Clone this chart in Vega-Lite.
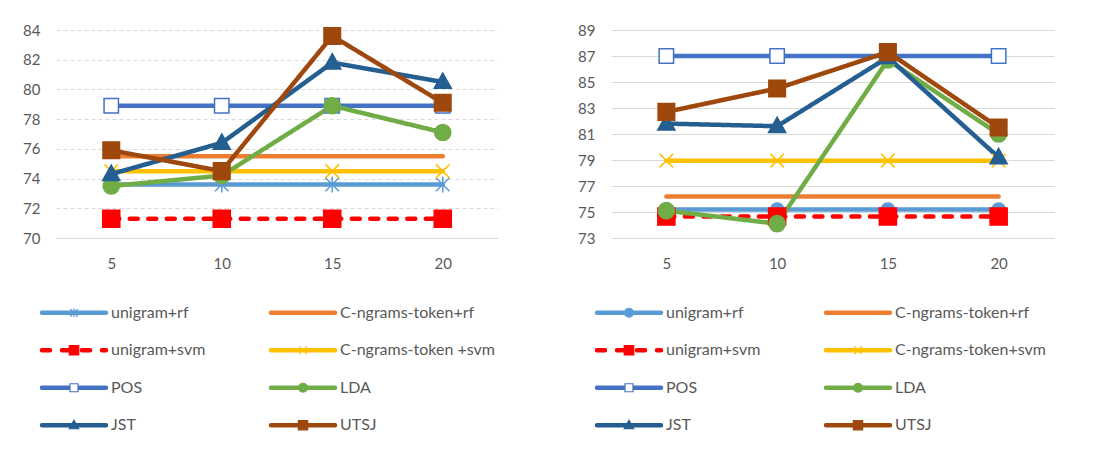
{
  "$schema": "https://vega.github.io/schema/vega-lite/v6.json",
  "background": "white",
  "padding": {"left": 22, "top": 23, "right": 5, "bottom": 5},
  "config": {
    "view": {"stroke": null},
    "font": "Lato",
    "axis": {"labelFont": "Lato", "labelFontSize": 15, "labelColor": "#595959"}
  },
  "datasets": {
    "left": [
      {"series": "unigram+rf", "k": 5, "v": 73.6}, {"series": "unigram+rf", "k": 10, "v": 73.6}, {"series": "unigram+rf", "k": 15, "v": 73.6}, {"series": "unigram+rf", "k": 20, "v": 73.6},
      {"series": "C-ngrams-token+rf", "k": 5, "v": 75.5}, {"series": "C-ngrams-token+rf", "k": 10, "v": 75.5}, {"series": "C-ngrams-token+rf", "k": 15, "v": 75.5}, {"series": "C-ngrams-token+rf", "k": 20, "v": 75.5},
      {"series": "unigram+svm", "k": 5, "v": 71.3}, {"series": "unigram+svm", "k": 10, "v": 71.3}, {"series": "unigram+svm", "k": 15, "v": 71.3}, {"series": "unigram+svm", "k": 20, "v": 71.3},
      {"series": "C-ngrams-token +svm", "k": 5, "v": 74.5}, {"series": "C-ngrams-token +svm", "k": 10, "v": 74.5}, {"series": "C-ngrams-token +svm", "k": 15, "v": 74.5}, {"series": "C-ngrams-token +svm", "k": 20, "v": 74.5},
      {"series": "POS", "k": 5, "v": 78.9}, {"series": "POS", "k": 10, "v": 78.9}, {"series": "POS", "k": 15, "v": 78.9}, {"series": "POS", "k": 20, "v": 78.9},
      {"series": "LDA", "k": 5, "v": 73.5}, {"series": "LDA", "k": 10, "v": 74.2}, {"series": "LDA", "k": 15, "v": 78.9}, {"series": "LDA", "k": 20, "v": 77.1},
      {"series": "JST", "k": 5, "v": 74.3}, {"series": "JST", "k": 10, "v": 76.4}, {"series": "JST", "k": 15, "v": 81.8}, {"series": "JST", "k": 20, "v": 80.5},
      {"series": "UTSJ", "k": 5, "v": 75.9}, {"series": "UTSJ", "k": 10, "v": 74.5}, {"series": "UTSJ", "k": 15, "v": 83.6}, {"series": "UTSJ", "k": 20, "v": 79.1}
    ],
    "right": [
      {"series": "unigram+rf", "k": 5, "v": 75.2}, {"series": "unigram+rf", "k": 10, "v": 75.2}, {"series": "unigram+rf", "k": 15, "v": 75.2}, {"series": "unigram+rf", "k": 20, "v": 75.2},
      {"series": "C-ngrams-token+rf", "k": 5, "v": 76.2}, {"series": "C-ngrams-token+rf", "k": 10, "v": 76.2}, {"series": "C-ngrams-token+rf", "k": 15, "v": 76.2}, {"series": "C-ngrams-token+rf", "k": 20, "v": 76.2},
      {"series": "unigram+svm", "k": 5, "v": 74.65}, {"series": "unigram+svm", "k": 10, "v": 74.65}, {"series": "unigram+svm", "k": 15, "v": 74.65}, {"series": "unigram+svm", "k": 20, "v": 74.65},
      {"series": "C-ngrams-token+svm", "k": 5, "v": 78.95}, {"series": "C-ngrams-token+svm", "k": 10, "v": 78.95}, {"series": "C-ngrams-token+svm", "k": 15, "v": 78.95}, {"series": "C-ngrams-token+svm", "k": 20, "v": 78.95},
      {"series": "POS", "k": 5, "v": 87.0}, {"series": "POS", "k": 10, "v": 87.0}, {"series": "POS", "k": 15, "v": 87.0}, {"series": "POS", "k": 20, "v": 87.0},
      {"series": "LDA", "k": 5, "v": 75.1}, {"series": "LDA", "k": 10, "v": 74.1}, {"series": "LDA", "k": 15, "v": 86.7}, {"series": "LDA", "k": 20, "v": 81.0},
      {"series": "JST", "k": 5, "v": 81.8}, {"series": "JST", "k": 10, "v": 81.6}, {"series": "JST", "k": 15, "v": 86.9}, {"series": "JST", "k": 20, "v": 79.2},
      {"series": "UTSJ", "k": 5, "v": 82.7}, {"series": "UTSJ", "k": 10, "v": 84.5}, {"series": "UTSJ", "k": 15, "v": 87.3}, {"series": "UTSJ", "k": 20, "v": 81.5}
    ]
  },
  "resolve": {"scale": {"stroke": "independent", "fill": "independent", "shape": "independent", "strokeDash": "independent"}},
  "spacing": 79,
  "hconcat": [
    {
      "spacing": 23,
      "resolve": {"scale": {"stroke": "independent", "fill": "independent", "shape": "independent", "strokeDash": "independent"}},
      "vconcat": [
        {
          "width": 442, "height": 208,
          "data": {"name": "left"},
          "encoding": {
            "x": {"field": "k", "type": "ordinal", "scale": {"type": "point", "padding": 0.5}, "axis": {"title": null, "labelAngle": 0, "ticks": false, "grid": false, "domainColor": "#d9d9d9", "domainWidth": 1, "labelPadding": 18}},
            "y": {"field": "v", "type": "quantitative", "scale": {"domain": [70, 84], "nice": false, "zero": false}, "axis": {"title": null, "values": [70, 72, 74, 76, 78, 80, 82, 84], "ticks": false, "domain": false, "grid": true, "gridColor": "#d9d9d9", "gridDash": [4, 3], "gridWidth": 1, "labelPadding": 16}}
          },
          "layer": [
            {
              "mark": {"type": "line", "strokeWidth": 4.5, "strokeCap": "round", "strokeJoin": "round"},
              "encoding": {
                "stroke": {"field": "series", "type": "nominal", "legend": null, "scale": {"domain": ["unigram+rf", "C-ngrams-token+rf", "unigram+svm", "C-ngrams-token +svm", "POS", "LDA", "JST", "UTSJ"], "range": ["#5b9bd5", "#ed7d31", "#ff0000", "#ffc000", "#4472c4", "#70ad47", "#255e91", "#9e480e"]}},
                "strokeDash": {"field": "series", "type": "nominal", "legend": null, "scale": {"domain": ["unigram+rf", "C-ngrams-token+rf", "unigram+svm", "C-ngrams-token +svm", "POS", "LDA", "JST", "UTSJ"], "range": [[1, 0], [1, 0], [8, 10.5], [1, 0], [1, 0], [1, 0], [1, 0], [1, 0]]}}
              }
            },
            {
              "transform": [{"filter": "datum.series !== 'C-ngrams-token+rf'"}],
              "mark": {"type": "point", "filled": true, "opacity": 1, "size": 324, "strokeWidth": 1.5},
              "encoding": {
                "shape": {"field": "series", "type": "nominal", "legend": null, "scale": {"domain": ["unigram+rf", "unigram+svm", "C-ngrams-token +svm", "POS", "LDA", "JST", "UTSJ"], "range": ["M-0.75,-0.75L0.75,0.75M-0.75,0.75L0.75,-0.75M0,-0.9L0,0.9", "M-0.95,-0.95L0.95,-0.95L0.95,0.95L-0.95,0.95Z", "M-0.75,-0.75L0.75,0.75M-0.75,0.75L0.75,-0.75", "M-0.8,-0.8L0.8,-0.8L0.8,0.8L-0.8,0.8Z", "M-0.9,0A0.9,0.9,0,1,1,0.9,0A0.9,0.9,0,1,1,-0.9,0Z", "M0,-1L0.95,0.7L-0.95,0.7Z", "M-0.92,-0.92L0.92,-0.92L0.92,0.92L-0.92,0.92Z"]}},
                "fill": {"field": "series", "type": "nominal", "legend": null, "scale": {"domain": ["unigram+rf", "unigram+svm", "C-ngrams-token +svm", "POS", "LDA", "JST", "UTSJ"], "range": ["transparent", "#ff0000", "transparent", "#ffffff", "#70ad47", "#255e91", "#9e480e"]}},
                "stroke": {"field": "series", "type": "nominal", "legend": null, "scale": {"domain": ["unigram+rf", "C-ngrams-token+rf", "unigram+svm", "C-ngrams-token +svm", "POS", "LDA", "JST", "UTSJ"], "range": ["#5b9bd5", "#ed7d31", "#ff0000", "#ffc000", "#4472c4", "#70ad47", "#255e91", "#9e480e"]}}
              }
            }
          ]
        },
        {
          "width": 442, "height": 150,
          "data": {"name": "left"},
          "transform": [
            {"filter": "datum.k == 5"},
            {"window": [{"op": "row_number", "as": "i"}]},
            {"calculate": "(datum.i - 1) % 2", "as": "col"},
            {"calculate": "floor((datum.i - 1) / 2)", "as": "row"}
          ],
          "encoding": {
            "x": {"field": "col", "type": "quantitative", "scale": {"domain": [-0.0786, 1.8515]}, "axis": null},
            "y": {"field": "row", "type": "quantitative", "scale": {"domain": [-0.5, 3.5], "reverse": true}, "axis": null}
          },
          "layer": [
            {
              "mark": {"type": "point", "shape": "M-1,0L1,0", "size": 4096, "strokeWidth": 4.5, "strokeCap": "round", "filled": false, "opacity": 1},
              "encoding": {
                "stroke": {"field": "series", "type": "nominal", "legend": null, "scale": {"domain": ["unigram+rf", "C-ngrams-token+rf", "unigram+svm", "C-ngrams-token +svm", "POS", "LDA", "JST", "UTSJ"], "range": ["#5b9bd5", "#ed7d31", "#ff0000", "#ffc000", "#4472c4", "#70ad47", "#255e91", "#9e480e"]}},
                "strokeDash": {"field": "series", "type": "nominal", "legend": null, "scale": {"domain": ["unigram+rf", "C-ngrams-token+rf", "unigram+svm", "C-ngrams-token +svm", "POS", "LDA", "JST", "UTSJ"], "range": [[1, 0], [1, 0], [8, 12], [1, 0], [1, 0], [1, 0], [1, 0], [1, 0]]}}
              }
            },
            {
              "transform": [{"filter": "datum.series !== 'C-ngrams-token+rf'"}],
              "mark": {"type": "point", "filled": true, "opacity": 1, "size": 100, "strokeWidth": 1.2},
              "encoding": {
                "shape": {"field": "series", "type": "nominal", "legend": null, "scale": {"domain": ["unigram+rf", "unigram+svm", "C-ngrams-token +svm", "POS", "LDA", "JST", "UTSJ"], "range": ["M-0.75,-0.75L0.75,0.75M-0.75,0.75L0.75,-0.75M0,-0.9L0,0.9", "M-0.95,-0.95L0.95,-0.95L0.95,0.95L-0.95,0.95Z", "M-0.75,-0.75L0.75,0.75M-0.75,0.75L0.75,-0.75", "M-0.8,-0.8L0.8,-0.8L0.8,0.8L-0.8,0.8Z", "M-0.9,0A0.9,0.9,0,1,1,0.9,0A0.9,0.9,0,1,1,-0.9,0Z", "M0,-1L0.95,0.7L-0.95,0.7Z", "M-0.92,-0.92L0.92,-0.92L0.92,0.92L-0.92,0.92Z"]}},
                "fill": {"field": "series", "type": "nominal", "legend": null, "scale": {"domain": ["unigram+rf", "unigram+svm", "C-ngrams-token +svm", "POS", "LDA", "JST", "UTSJ"], "range": ["transparent", "#ff0000", "transparent", "#ffffff", "#70ad47", "#255e91", "#9e480e"]}},
                "stroke": {"field": "series", "type": "nominal", "legend": null, "scale": {"domain": ["unigram+rf", "C-ngrams-token+rf", "unigram+svm", "C-ngrams-token +svm", "POS", "LDA", "JST", "UTSJ"], "range": ["#5b9bd5", "#ed7d31", "#ff0000", "#ffc000", "#4472c4", "#70ad47", "#255e91", "#9e480e"]}}
              }
            },
            {
              "mark": {"type": "text", "align": "left", "baseline": "middle", "dx": 37, "fontSize": 16, "font": "Lato", "color": "#595959"},
              "encoding": {"text": {"field": "series", "type": "nominal"}}
            }
          ]
        }
      ]
    },
    {
      "spacing": 23,
      "resolve": {"scale": {"stroke": "independent", "fill": "independent", "shape": "independent", "strokeDash": "independent"}},
      "vconcat": [
        {
          "width": 443, "height": 208,
          "data": {"name": "right"},
          "encoding": {
            "x": {"field": "k", "type": "ordinal", "scale": {"type": "point", "padding": 0.5}, "axis": {"title": null, "labelAngle": 0, "ticks": false, "grid": false, "domainColor": "#d9d9d9", "domainWidth": 1, "labelPadding": 18}},
            "y": {"field": "v", "type": "quantitative", "scale": {"domain": [73, 89], "nice": false, "zero": false}, "axis": {"title": null, "values": [73, 75, 77, 79, 81, 83, 85, 87, 89], "ticks": false, "domain": false, "grid": true, "gridColor": "#d9d9d9", "gridWidth": 1, "labelPadding": 16}}
          },
          "layer": [
            {
              "mark": {"type": "line", "strokeWidth": 4.5, "strokeCap": "round", "strokeJoin": "round"},
              "encoding": {
                "stroke": {"field": "series", "type": "nominal", "legend": null, "scale": {"domain": ["unigram+rf", "C-ngrams-token+rf", "unigram+svm", "C-ngrams-token+svm", "POS", "LDA", "JST", "UTSJ"], "range": ["#5b9bd5", "#ed7d31", "#ff0000", "#ffc000", "#4472c4", "#70ad47", "#255e91", "#9e480e"]}},
                "strokeDash": {"field": "series", "type": "nominal", "legend": null, "scale": {"domain": ["unigram+rf", "C-ngrams-token+rf", "unigram+svm", "C-ngrams-token+svm", "POS", "LDA", "JST", "UTSJ"], "range": [[1, 0], [1, 0], [8, 10.5], [1, 0], [1, 0], [1, 0], [1, 0], [1, 0]]}}
              }
            },
            {
              "transform": [{"filter": "datum.series !== 'C-ngrams-token+rf'"}],
              "mark": {"type": "point", "filled": true, "opacity": 1, "size": 324, "strokeWidth": 1.5},
              "encoding": {
                "shape": {"field": "series", "type": "nominal", "legend": null, "scale": {"domain": ["unigram+rf", "unigram+svm", "C-ngrams-token+svm", "POS", "LDA", "JST", "UTSJ"], "range": ["M-0.72,0A0.72,0.72,0,1,1,0.72,0A0.72,0.72,0,1,1,-0.72,0Z", "M-0.95,-0.95L0.95,-0.95L0.95,0.95L-0.95,0.95Z", "M-0.75,-0.75L0.75,0.75M-0.75,0.75L0.75,-0.75", "M-0.8,-0.8L0.8,-0.8L0.8,0.8L-0.8,0.8Z", "M-0.9,0A0.9,0.9,0,1,1,0.9,0A0.9,0.9,0,1,1,-0.9,0Z", "M0,-1L0.95,0.7L-0.95,0.7Z", "M-0.92,-0.92L0.92,-0.92L0.92,0.92L-0.92,0.92Z"]}},
                "fill": {"field": "series", "type": "nominal", "legend": null, "scale": {"domain": ["unigram+rf", "unigram+svm", "C-ngrams-token+svm", "POS", "LDA", "JST", "UTSJ"], "range": ["#5b9bd5", "#ff0000", "transparent", "#ffffff", "#70ad47", "#255e91", "#9e480e"]}},
                "stroke": {"field": "series", "type": "nominal", "legend": null, "scale": {"domain": ["unigram+rf", "C-ngrams-token+rf", "unigram+svm", "C-ngrams-token+svm", "POS", "LDA", "JST", "UTSJ"], "range": ["#5b9bd5", "#ed7d31", "#ff0000", "#ffc000", "#4472c4", "#70ad47", "#255e91", "#9e480e"]}}
              }
            }
          ]
        },
        {
          "width": 443, "height": 150,
          "data": {"name": "right"},
          "transform": [
            {"filter": "datum.k == 5"},
            {"window": [{"op": "row_number", "as": "i"}]},
            {"calculate": "(datum.i - 1) % 2", "as": "col"},
            {"calculate": "floor((datum.i - 1) / 2)", "as": "row"}
          ],
          "encoding": {
            "x": {"field": "col", "type": "quantitative", "scale": {"domain": [-0.0786, 1.8558]}, "axis": null},
            "y": {"field": "row", "type": "quantitative", "scale": {"domain": [-0.5, 3.5], "reverse": true}, "axis": null}
          },
          "layer": [
            {
              "mark": {"type": "point", "shape": "M-1,0L1,0", "size": 4096, "strokeWidth": 4.5, "strokeCap": "round", "filled": false, "opacity": 1},
              "encoding": {
                "stroke": {"field": "series", "type": "nominal", "legend": null, "scale": {"domain": ["unigram+rf", "C-ngrams-token+rf", "unigram+svm", "C-ngrams-token+svm", "POS", "LDA", "JST", "UTSJ"], "range": ["#5b9bd5", "#ed7d31", "#ff0000", "#ffc000", "#4472c4", "#70ad47", "#255e91", "#9e480e"]}},
                "strokeDash": {"field": "series", "type": "nominal", "legend": null, "scale": {"domain": ["unigram+rf", "C-ngrams-token+rf", "unigram+svm", "C-ngrams-token+svm", "POS", "LDA", "JST", "UTSJ"], "range": [[1, 0], [1, 0], [8, 12], [1, 0], [1, 0], [1, 0], [1, 0], [1, 0]]}}
              }
            },
            {
              "transform": [{"filter": "datum.series !== 'C-ngrams-token+rf'"}],
              "mark": {"type": "point", "filled": true, "opacity": 1, "size": 100, "strokeWidth": 1.2},
              "encoding": {
                "shape": {"field": "series", "type": "nominal", "legend": null, "scale": {"domain": ["unigram+rf", "unigram+svm", "C-ngrams-token+svm", "POS", "LDA", "JST", "UTSJ"], "range": ["M-0.9,0A0.9,0.9,0,1,1,0.9,0A0.9,0.9,0,1,1,-0.9,0Z", "M-0.95,-0.95L0.95,-0.95L0.95,0.95L-0.95,0.95Z", "M-0.75,-0.75L0.75,0.75M-0.75,0.75L0.75,-0.75", "M-0.8,-0.8L0.8,-0.8L0.8,0.8L-0.8,0.8Z", "M-0.9,0A0.9,0.9,0,1,1,0.9,0A0.9,0.9,0,1,1,-0.9,0Z", "M0,-1L0.95,0.7L-0.95,0.7Z", "M-0.92,-0.92L0.92,-0.92L0.92,0.92L-0.92,0.92Z"]}},
                "fill": {"field": "series", "type": "nominal", "legend": null, "scale": {"domain": ["unigram+rf", "unigram+svm", "C-ngrams-token+svm", "POS", "LDA", "JST", "UTSJ"], "range": ["#5b9bd5", "#ff0000", "transparent", "#ffffff", "#70ad47", "#255e91", "#9e480e"]}},
                "stroke": {"field": "series", "type": "nominal", "legend": null, "scale": {"domain": ["unigram+rf", "C-ngrams-token+rf", "unigram+svm", "C-ngrams-token+svm", "POS", "LDA", "JST", "UTSJ"], "range": ["#5b9bd5", "#ed7d31", "#ff0000", "#ffc000", "#4472c4", "#70ad47", "#255e91", "#9e480e"]}}
              }
            },
            {
              "mark": {"type": "text", "align": "left", "baseline": "middle", "dx": 37, "fontSize": 16, "font": "Lato", "color": "#595959"},
              "encoding": {"text": {"field": "series", "type": "nominal"}}
            }
          ]
        }
      ]
    }
  ]
}
